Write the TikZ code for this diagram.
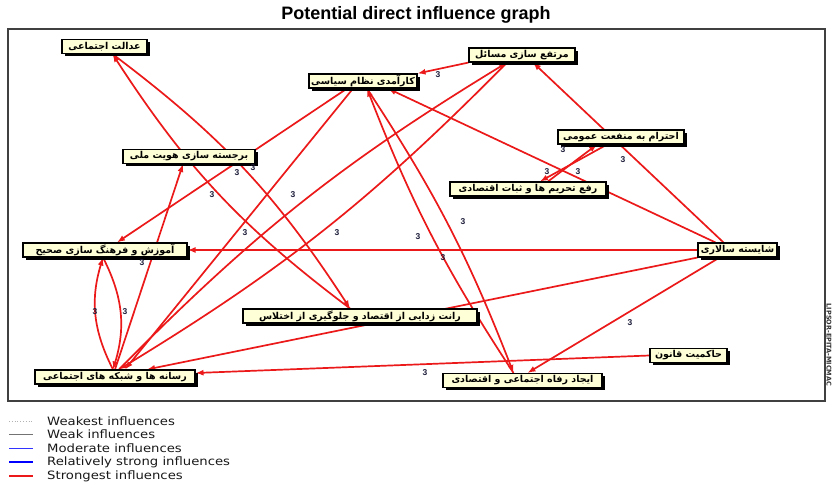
\documentclass[tikz,border=0pt]{standalone}
\usepackage{fontspec}
\setmainfont{Liberation Sans}
\newfontfamily\arabicfont[Script=Arabic]{DejaVu Sans}
\newfontfamily\dejavu{DejaVu Sans}
\newfontfamily\legfont[FakeStretch=1.15]{DejaVu Sans}
\TeXXeTstate=1
\usetikzlibrary{arrows.meta,shadows,calc,backgrounds}
\definecolor{edgered}{RGB}{235,25,25}
\definecolor{boxfill}{RGB}{255,255,215}
\definecolor{lblcol}{RGB}{30,30,60}
\tikzset{
  varbox/.style={draw=black, line width=1.1pt, fill=boxfill, inner sep=1pt,
    minimum height=14pt, font=\arabicfont\bfseries\fontsize{9.5}{10}\selectfont,
    drop shadow={shadow xshift=2.8pt, shadow yshift=-2.8pt, fill=black, opacity=1}},
  infl/.style={draw=edgered, line width=1.7pt, -{Latex[length=8pt,width=6pt]}},
  lbl/.style={font=\bfseries\fontsize{8.5}{8.5}\selectfont, text=lblcol, inner sep=0pt},
  legtext/.style={anchor=west, font=\legfont\fontsize{11.5}{12}\selectfont, text=black!90, inner sep=0pt},
}
\begin{document}
\begin{tikzpicture}[x=1pt,y=-1pt]
\useasboundingbox (0,0) rectangle (833,485);
% title and frame
\node[font=\bfseries\fontsize{18}{19}\selectfont] (title) at (416,15) {Potential direct influence graph};
\draw[line width=1.2pt, black!75] (8,29) rectangle (825,401);
\node[rotate=-90, font=\dejavu\bfseries\fontsize{6.5}{7}\selectfont, text=black!80] (credit) at (829,345) {LIPSOR-EPITA-MICMAC};

% variables
\node[varbox, minimum width=85pt]  (adalat)    at (104.5,46.5) {\beginR عدالت اجتماعی\endR};
\node[varbox, minimum width=108pt] (karamadi)  at (363,81)    {\beginR کارآمدی نظام سیاسی\endR};
\node[varbox, minimum width=106pt] (mortafa)   at (522,55)    {\beginR مرتفع سازی مسائل\endR};
\node[varbox, minimum width=126pt] (ehteram)   at (621,137)   {\beginR احترام به منفعت عمومی\endR};
\node[varbox, minimum width=156pt] (rafe)      at (528,189)   {\beginR رفع تحریم ها و ثبات اقتصادی\endR};
\node[varbox, minimum width=132pt] (barjaste)  at (189,156.5) {\beginR برجسته سازی هویت ملی\endR};
\node[varbox, minimum width=164pt] (amoozesh)  at (105,250)   {\beginR آموزش و فرهنگ سازی صحیح\endR};
\node[varbox, minimum width=79pt]  (shayeste)  at (737.5,250) {\beginR شایسته سالاری\endR};
\node[varbox, minimum width=234pt] (rant)      at (360,316)   {\beginR رانت زدایی از اقتصاد و جلوگیری از اختلاس\endR};
\node[varbox, minimum width=77pt]  (hakemiyat) at (688.5,355.5) {\beginR حاکمیت قانون\endR};
\node[varbox, minimum width=160pt] (resane)    at (115,377)   {\beginR رسانه ها و شبکه های اجتماعی\endR};
\node[varbox, minimum width=159pt] (refah)     at (522.5,380.5) {\beginR ایجاد رفاه اجتماعی و اقتصادی\endR};

% influences
\begin{pgfonlayer}{background}
\fill[white] (0,0) rectangle (833,485);
\draw[infl] (mortafa.south west) -- (karamadi.north east);
\draw[infl] ($(karamadi.south)+(-16,0)$) -- ($(amoozesh.north)+(12,0)$);
\draw[infl] ($(rant.north)+(-10,0)$) to[bend left=10] ($(adalat.south)+(8,0)$);
\draw[infl] ($(adalat.south)+(8,0)$) to[bend left=10] ($(rant.north)+(-10,0)$);
\draw[infl] ($(karamadi.south)+(-10,0)$) -- ($(resane.north)+(10,0)$);
\draw[infl] ($(resane.north)+(4,0)$) to[bend left=7] ($(mortafa.south)+(-15,0)$);
\draw[infl] ($(mortafa.south)+(-15,0)$) to[bend left=7] ($(resane.north)+(4,0)$);
\draw[infl] (resane.north) -- ($(barjaste.south)+(-6,0)$);
\draw[infl] ($(resane.north)+(-2,0)$) to[bend left=22] ($(amoozesh.south)+(-2,0)$);
\draw[infl] ($(amoozesh.south)+(-2,0)$) to[bend left=22] ($(resane.north)+(-2,0)$);
\draw[infl] (shayeste.west) -- (amoozesh.east);
\draw[infl] (hakemiyat.west) -- ($(resane.east)+(0,-4)$);
\draw[infl] (shayeste.south west) -- ($(resane.north)+(32,0)$);
\draw[infl] ($(karamadi.south)+(4,0)$) to[bend left=6] ($(refah.north)+(-9,0)$);
\draw[infl] ($(refah.north)+(-9,0)$) to[bend left=6] ($(karamadi.south)+(4,0)$);
\draw[infl] ($(shayeste.south)+(-18,0)$) -- ($(refah.north)+(5,0)$);
\draw[infl] ($(shayeste.north)+(-22,0)$) -- ($(karamadi.south)+(25,0)$);
\draw[infl] ($(shayeste.north)+(-14,0)$) -- ($(mortafa.south)+(11,0)$);
\draw[infl] ($(ehteram.south)+(-14,0)$) -- ($(rafe.north)+(12,0)$);
\draw[infl] ($(rafe.north)+(20,0)$) -- ($(ehteram.south)+(-24,0)$);
\end{pgfonlayer}

% intensity labels
\node[lbl] (l1) at (438,75) {3};
\node[lbl] (l2) at (253,168) {3};
\node[lbl] (l3) at (237,173) {3};
\node[lbl] (l4) at (212,195) {3};
\node[lbl] (l5) at (293,195) {3};
\node[lbl] (l6) at (245,233) {3};
\node[lbl] (l7) at (337,233) {3};
\node[lbl] (l8) at (142,263) {3};
\node[lbl] (l9) at (95,312) {3};
\node[lbl] (l10) at (125,312) {3};
\node[lbl] (l11) at (418,237) {3};
\node[lbl] (l12) at (443,258) {3};
\node[lbl] (l13) at (463,222) {3};
\node[lbl] (l14) at (563,150) {3};
\node[lbl] (l15) at (623,160) {3};
\node[lbl] (l16) at (547,172) {3};
\node[lbl] (l17) at (578,172) {3};
\node[lbl] (l18) at (630,323) {3};
\node[lbl] (l19) at (425,373) {3};

% legend
\draw[black!30, line width=0.8pt, dotted] (9,421) -- (33,421);
\draw[black!55, line width=0.9pt] (9,434) -- (33,434);
\draw[blue!80, line width=0.7pt] (9,448) -- (33,448);
\draw[blue, line width=2pt] (9,462) -- (33,462);
\draw[edgered, line width=2pt] (9,476) -- (33,476);
\node[legtext] (g1) at (47,421) {Weakest influences};
\node[legtext] (g2) at (47,434) {Weak influences};
\node[legtext] (g3) at (47,448) {Moderate influences};
\node[legtext] (g4) at (47,462) {Relatively strong influences};
\node[legtext] (g5) at (47,476) {Strongest influences};
\end{tikzpicture}
\end{document}
